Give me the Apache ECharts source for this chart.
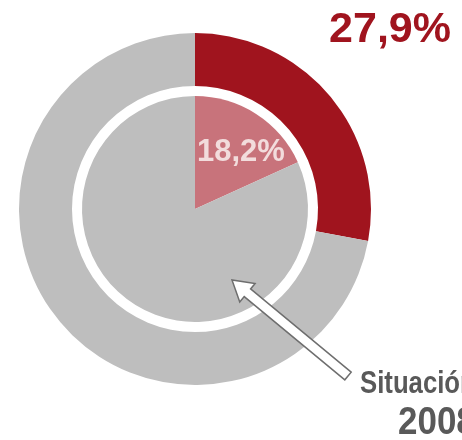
<!DOCTYPE html>
<html>
<head>
<meta charset="utf-8">
<script src="https://cdn.jsdelivr.net/npm/echarts@6/dist/echarts.min.js"></script>
<style>
  html, body { margin: 0; padding: 0; background: #fff; }
  #main { width: 462px; height: 440px; }
</style>
</head>
<body>
<div id="main"></div>
<script>
// datos
var outerNames = ['Actual', 'Resto']
var outerValues = [27.9, 72.1]
var innerNames = ['2008', 'Resto 2008']
var innerValues = [18.2, 81.8]
var noteLines = ['Situación', '2008']

function pct (v) {
  return String(v).replace('.', ',') + '%'
}

// flecha (decoracion)
function arrowPoints (x1, y1, x2, y2, shaft, headW, headL) {
  var dx = x2 - x1
  var dy = y2 - y1
  var len = Math.sqrt(dx * dx + dy * dy)
  var ux = dx / len
  var uy = dy / len
  var px = -uy
  var py = ux
  var bx = x2 - ux * headL
  var by = y2 - uy * headL
  return [
    [x1 + px * shaft, y1 + py * shaft],
    [bx + px * shaft, by + py * shaft],
    [bx + px * headW, by + py * headW],
    [x2, y2],
    [bx - px * headW, by - py * headW],
    [bx - px * shaft, by - py * shaft],
    [x1 - px * shaft, y1 - py * shaft]
  ]
}

var myChart = echarts.init(document.getElementById('main'))
myChart.setOption({
  animation: false,
  series: [
    {
      name: 'exterior',
      type: 'pie',
      center: [195, 209],
      radius: [123, 176],
      startAngle: 90,
      clockwise: true,
      silent: true,
      label: { show: false },
      labelLine: { show: false },
      itemStyle: { borderWidth: 0 },
      data: outerNames.map(function (n, i) {
        return { name: n, value: outerValues[i], itemStyle: { color: i === 0 ? '#a0141e' : '#bebebe' } }
      })
    },
    {
      name: 'interior',
      type: 'pie',
      center: [195, 209],
      radius: [0, 113],
      startAngle: 90,
      clockwise: true,
      silent: true,
      label: { show: false },
      labelLine: { show: false },
      itemStyle: { borderWidth: 0 },
      data: innerNames.map(function (n, i) {
        return { name: n, value: innerValues[i], itemStyle: { color: i === 0 ? '#c8737b' : '#bebebe' } }
      })
    }
  ],
  graphic: [
    {
      type: 'text',
      z: 10,
      style: {
        text: pct(outerValues[0]),
        x: 451,
        y: 30,
        align: 'right',
        verticalAlign: 'middle',
        font: 'bold 43px "Liberation Sans", Arial, sans-serif',
        fill: '#a0141e'
      }
    },
    {
      type: 'text',
      z: 10,
      style: {
        text: pct(innerValues[0]),
        x: 197,
        y: 152,
        align: 'left',
        verticalAlign: 'middle',
        font: 'bold 31px "Liberation Sans", Arial, sans-serif',
        fill: '#f2dcdc'
      }
    },
    {
      type: 'polygon',
      z: 10,
      shape: { points: arrowPoints(348, 376, 232, 280, 5, 12, 20) },
      style: { fill: '#ffffff', stroke: '#6e6e6e', lineWidth: 1.5 }
    },
    {
      type: 'text',
      z: 10,
      x: 360,
      y: 384,
      scaleX: 0.83,
      style: {
        text: noteLines[0],
        x: 0,
        y: 0,
        align: 'left',
        verticalAlign: 'middle',
        font: 'bold 31px "Liberation Sans", Arial, sans-serif',
        fill: '#595959'
      }
    },
    {
      type: 'text',
      z: 10,
      x: 398,
      y: 424,
      scaleX: 0.92,
      style: {
        text: noteLines[1],
        x: 0,
        y: 0,
        align: 'left',
        verticalAlign: 'middle',
        font: 'bold 38px "Liberation Sans", Arial, sans-serif',
        fill: '#595959'
      }
    }
  ]
})
</script>
</body>
</html>
